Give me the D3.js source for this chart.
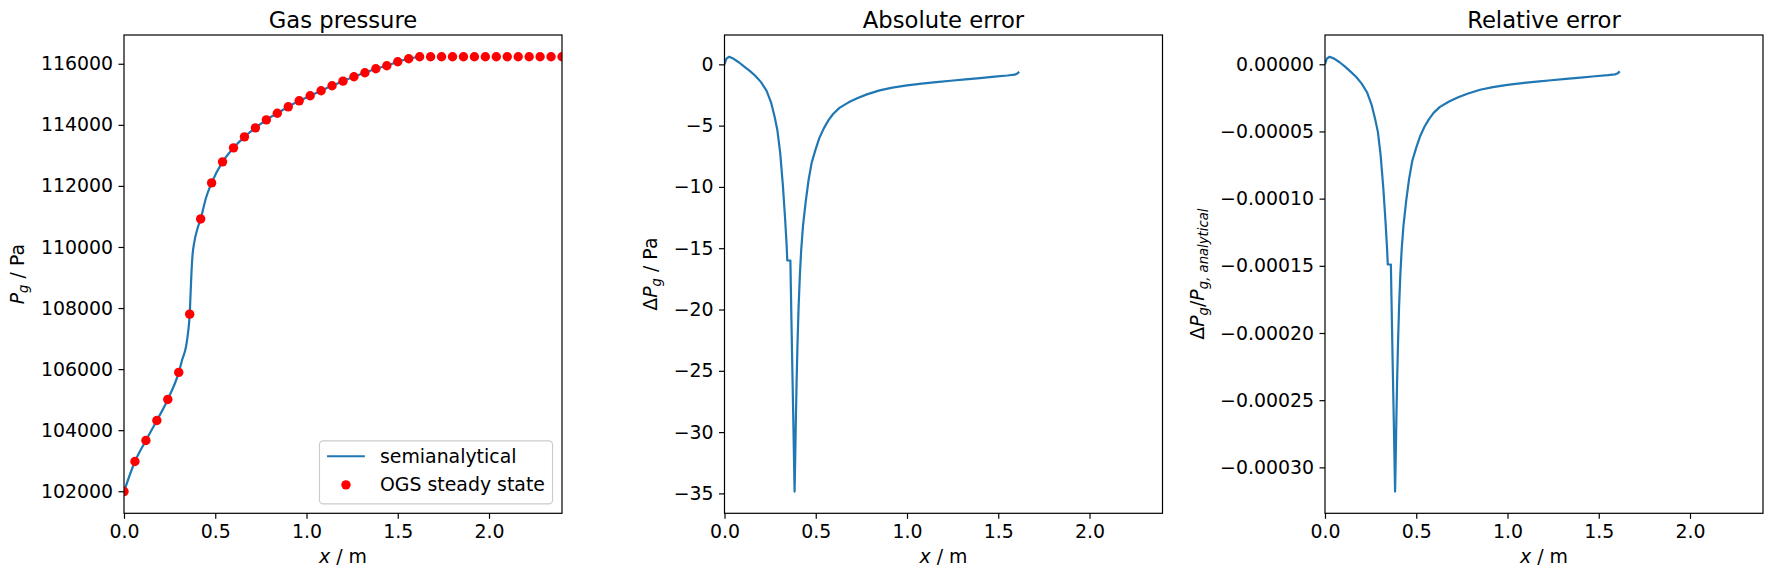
<!DOCTYPE html>
<html><head><meta charset="utf-8">
<script src="https://cdn.jsdelivr.net/npm/d3@7"></script>
<style>
body{margin:0;background:#fff}
svg{display:block}
text{font-family:"DejaVu Sans",sans-serif;fill:#000}
</style>
</head><body>
<svg id="c" width="1778" height="577"></svg>
<script>
// ---------------- data ----------------
const ogsX = [0.00,0.06,0.12,0.18,0.24,0.30,0.36,0.42,0.48,0.54,0.60,0.66,0.72,0.78,0.84,0.90,0.96,1.02,1.08,1.14,1.20,1.26,1.32,1.38,1.44,1.50,1.56,1.62,1.68,1.74,1.80,1.86,1.92,1.98,2.04,2.10,2.16,2.22,2.28,2.34,2.40];
const ogsP = [101990,102974,103662,104318,105007,105893,107800,110918,112098,112787,113246,113607,113902,114164,114380,114590,114787,114951,115115,115279,115430,115574,115705,115836,115934,116066,116164,116230,116230,116230,116230,116230,116230,116230,116230,116230,116230,116230,116230,116230,116230];

const semiX = [0.00,0.06,0.12,0.18,0.24,0.30,0.32,0.34,0.35,0.36,0.365,0.37,0.375,0.385,0.40,0.42,0.45,0.48,0.54,0.60,0.66,0.72,0.78,0.84,0.90,0.96,1.02,1.08,1.14,1.20,1.26,1.32,1.38,1.44,1.50,1.56,1.61];
const semiP = [101990,102974,103662,104318,105007,105893,106330,106740,107150,107800,108500,109200,109700,110150,110550,110918,111620,112098,112787,113246,113607,113902,114164,114380,114590,114787,114951,115115,115279,115430,115574,115705,115836,115934,116066,116164,116230];

const errX = [0.000,0.010,0.025,0.050,0.080,0.110,0.140,0.170,0.200,0.230,0.255,0.275,0.290,0.305,0.320,0.332,0.340,0.344,0.361,0.364,0.370,0.377,0.384,0.387,0.391,0.395,0.400,0.406,0.413,0.420,0.430,0.445,0.460,0.478,0.500,0.520,0.545,0.570,0.595,0.630,0.680,0.730,0.780,0.850,0.920,1.000,1.080,1.160,1.240,1.320,1.400,1.480,1.550,1.590,1.605,1.615];
const absErr = [0.0,0.45,0.62,0.45,0.15,-0.20,-0.55,-0.95,-1.45,-2.15,-3.1,-4.3,-5.4,-7.2,-9.9,-12.6,-14.6,-16.0,-16.0,-18.6,-23.5,-29.0,-34.85,-32.5,-29.0,-26.0,-22.8,-19.8,-17.2,-15.2,-13.2,-11.2,-9.5,-8.0,-6.9,-6.0,-5.2,-4.55,-4.05,-3.55,-3.1,-2.75,-2.45,-2.12,-1.9,-1.72,-1.58,-1.45,-1.34,-1.23,-1.12,-1.0,-0.91,-0.84,-0.74,-0.6];
const relErr = [0.0,0.0000042,0.0000056,0.0000042,0.0000015,-0.0000018,-0.0000055,-0.0000093,-0.0000142,-0.0000208,-0.0000300,-0.0000410,-0.0000505,-0.0000680,-0.0000930,-0.0001180,-0.0001370,-0.0001490,-0.0001490,-0.0001720,-0.0002170,-0.0002660,-0.0003180,-0.0002970,-0.0002650,-0.0002370,-0.0002080,-0.0001800,-0.0001560,-0.0001380,-0.0001200,-0.0001015,-0.0000860,-0.0000720,-0.0000620,-0.0000540,-0.0000465,-0.0000408,-0.0000362,-0.0000317,-0.0000277,-0.0000246,-0.0000219,-0.0000190,-0.0000170,-0.0000153,-0.0000140,-0.0000129,-0.0000119,-0.0000109,-0.0000099,-0.0000089,-0.0000081,-0.0000075,-0.0000066,-0.0000053];

const xTicks = [0,0.5,1.0,1.5,2.0];
const pTicks = [102000,104000,106000,108000,110000,112000,114000,116000];
const absTicks = [0,-5,-10,-15,-20,-25,-30,-35];
const relTicks = [0,-0.00005,-0.00010,-0.00015,-0.00020,-0.00025,-0.00030];
const titles = ["Gas pressure","Absolute error","Relative error"];
const legendLabels = ["semianalytical","OGS steady state"];
const xDomain = [0,2.4];

(function(){
// ---------------- layout ----------------
const svg = d3.select("#c");
const FS = 18.9, TFS = 22.7;
const BLUE = "#1f77b4", RED = "#ff0000";
const yTop = 35, yBot = 513.3;
const panels = [{x0:124,x1:562},{x0:724.5,x1:1162.5},{x0:1325,x1:1763}];

function padExt(vals){
  const [a,b] = d3.extent(vals); const r = b-a; return [a-0.05*r, b+0.05*r];
}

function drawPanel(i, yDomain, yTicks, yFmt){
  const p = panels[i];
  const g = svg.append("g");
  const x = d3.scaleLinear().domain(xDomain).range([p.x0,p.x1]);
  const y = d3.scaleLinear().domain(yDomain).range([yBot,yTop]);
  const cid = "clip"+i;
  svg.append("clipPath").attr("id",cid).append("rect")
    .attr("x",p.x0).attr("y",yTop).attr("width",p.x1-p.x0).attr("height",yBot-yTop);
  const xa = g.append("g").attr("transform",`translate(0,${yBot})`)
    .call(d3.axisBottom(x).tickValues(xTicks).tickFormat(d3.format(".1f")).tickSize(5.5).tickPadding(5.5).tickSizeOuter(0));
  const ya = g.append("g").attr("transform",`translate(${p.x0},0)`)
    .call(d3.axisLeft(y).tickValues(yTicks).tickFormat(yFmt).tickSize(5.5).tickPadding(5.5).tickSizeOuter(0));
  [xa,ya].forEach(a=>{
    a.select(".domain").remove();
    a.selectAll("line").attr("stroke","#000").attr("stroke-width",1.2);
    a.selectAll("text").attr("font-size",FS).attr("font-family","DejaVu Sans").attr("fill","#000");
  });
  g.append("text").attr("x",(p.x0+p.x1)/2).attr("y",27.5).attr("text-anchor","middle")
    .attr("font-size",TFS).text(titles[i]);
  const xl = g.append("text").attr("x",(p.x0+p.x1)/2).attr("y",563).attr("text-anchor","middle").attr("font-size",FS);
  xl.append("tspan").attr("font-style","italic").text("x");
  xl.append("tspan").text(" / m");
  return {g,x,y,cid,p};
}

function frame(P){
  P.g.append("rect").attr("x",P.p.x0).attr("y",yTop).attr("width",P.p.x1-P.p.x0).attr("height",yBot-yTop)
    .attr("fill","none").attr("stroke","#000").attr("stroke-width",1.2);
}

function ylabel(P, cx, parts){
  const yc = (yTop+yBot)/2;
  const t = P.g.append("text").attr("transform",`translate(${cx},${yc}) rotate(-90)`)
    .attr("text-anchor","middle").attr("font-size",FS);
  parts.forEach(pt=>{
    const s = t.append("tspan").text(pt.t);
    if(pt.it) s.attr("font-style","italic");
    if(pt.sub){ s.attr("font-size",FS*0.7).attr("dy",FS*0.22); }
    if(pt.back){ s.attr("dy",-FS*0.22); }
  });
}

// ---- panel 1 ----
const P1 = drawPanel(0, padExt(ogsP.concat(semiP)), pTicks, d3.format("d"));
const semi = semiX.map((v,k)=>[v,semiP[k]]);
P1.g.append("path").datum(semi).attr("clip-path",`url(#${P1.cid})`)
  .attr("fill","none").attr("stroke",BLUE).attr("stroke-width",2.2).attr("stroke-linejoin","round")
  .attr("d",d3.line().x(d=>P1.x(d[0])).y(d=>P1.y(d[1])).curve(d3.curveMonotoneX));
P1.g.append("g").attr("clip-path",`url(#${P1.cid})`).selectAll("circle")
  .data(ogsX.map((v,k)=>[v,ogsP[k]])).join("circle")
  .attr("cx",d=>P1.x(d[0])).attr("cy",d=>P1.y(d[1])).attr("r",4.7).attr("fill",RED);
frame(P1);
ylabel(P1, 24, [{t:"P",it:true},{t:"g",it:true,sub:true},{t:" / Pa",back:true}]);

// legend
{
  const lg = P1.g.append("g");
  const right = P1.p.x1 - 9.45, bot = yBot - 9.45;
  const bp = 7.6, hl = 37.8, htp = 15.1;
  const tmp = legendLabels.map(s=>{const t=lg.append("text").attr("font-size",FS).text(s);const w=t.node().getComputedTextLength();t.remove();return w;});
  const tw = d3.max(tmp);
  const wbox = bp + hl + htp + tw + bp;
  const hbox = 63;
  const left = right - wbox, topb = bot - hbox;
  lg.append("rect").attr("x",left).attr("y",topb).attr("width",wbox).attr("height",hbox)
    .attr("rx",3.8).attr("fill","#fff").attr("fill-opacity",0.8).attr("stroke","#cccccc").attr("stroke-width",1.2);
  const rows = [topb+15.4, topb+44];
  lg.append("line").attr("x1",left+bp).attr("x2",left+bp+hl).attr("y1",rows[0]).attr("y2",rows[0])
    .attr("stroke",BLUE).attr("stroke-width",2.2);
  lg.append("circle").attr("cx",left+bp+hl/2).attr("cy",rows[1]).attr("r",4.7).attr("fill",RED);
  legendLabels.forEach((s,k)=>{
    lg.append("text").attr("x",left+bp+hl+htp).attr("y",rows[k]).attr("dy","0.35em").attr("font-size",FS).text(s);
  });
}

// ---- panel 2 ----
const P2 = drawPanel(1, padExt(absErr), absTicks, d3.format("d"));
P2.g.append("path").datum(errX.map((v,k)=>[v,absErr[k]])).attr("clip-path",`url(#${P2.cid})`)
  .attr("fill","none").attr("stroke",BLUE).attr("stroke-width",2.2).attr("stroke-linejoin","round")
  .attr("d",d3.line().x(d=>P2.x(d[0])).y(d=>P2.y(d[1])));
frame(P2);
ylabel(P2, 657, [{t:"Δ"},{t:"P",it:true},{t:"g",it:true,sub:true},{t:" / Pa",back:true}]);

// ---- panel 3 ----
const P3 = drawPanel(2, padExt(relErr), relTicks, d3.format(".5f"));
P3.g.append("path").datum(errX.map((v,k)=>[v,relErr[k]])).attr("clip-path",`url(#${P3.cid})`)
  .attr("fill","none").attr("stroke",BLUE).attr("stroke-width",2.2).attr("stroke-linejoin","round")
  .attr("d",d3.line().x(d=>P3.x(d[0])).y(d=>P3.y(d[1])));
frame(P3);
ylabel(P3, 1204, [{t:"Δ"},{t:"P",it:true},{t:"g",it:true,sub:true},{t:"/",back:true},{t:"P",it:true},{t:"g, analytical",it:true,sub:true}]);
})();
</script>
</body></html>
